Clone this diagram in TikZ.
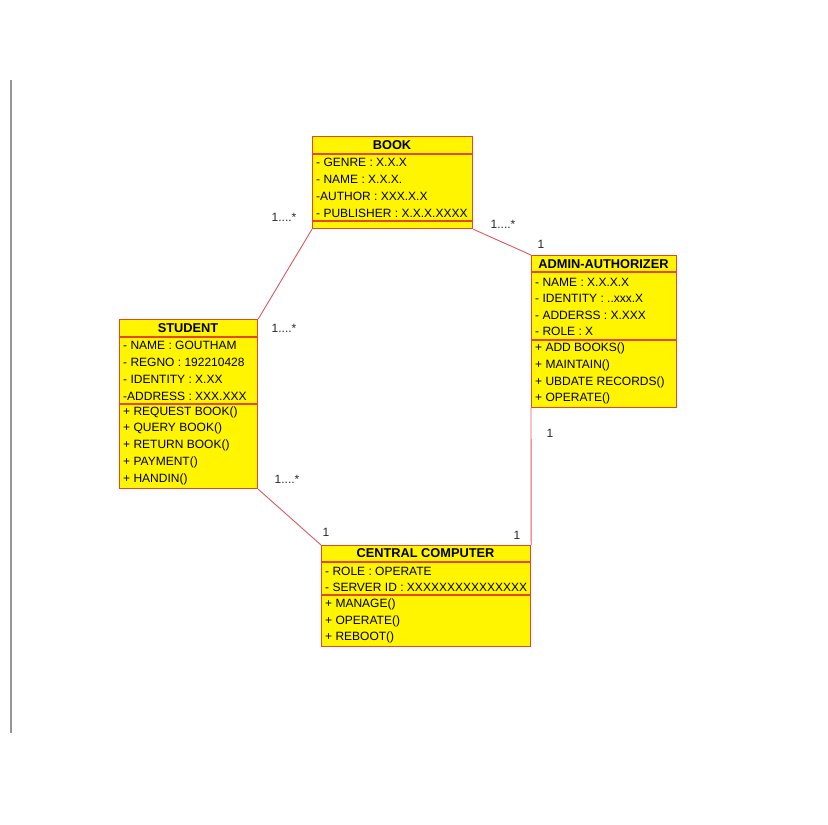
\documentclass[tikz,border=0pt]{standalone}
\usepackage{fontspec}
\setmainfont{Liberation Sans}
\definecolor{classyellow}{RGB}{255,245,0}
\definecolor{classborder}{RGB}{228,72,36}
\definecolor{assocred}{RGB}{222,88,100}
\definecolor{rulegray}{RGB}{150,150,150}
\definecolor{multtext}{RGB}{40,40,40}
\begin{document}
\begin{tikzpicture}[x=1pt,y=-1pt,
  classbox/.style={fill=classyellow,draw=classborder,line width=1.2pt,rectangle,inner sep=0pt,anchor=north west},
  sepline/.style={draw=classborder,line width=1.1pt},
  title/.style={font=\fontsize{12.8}{14}\selectfont\bfseries,inner sep=0pt,anchor=center},
  member/.style={font=\fontsize{12}{14}\selectfont,inner sep=0pt,anchor=west},
  assoc/.style={draw=assocred,line width=0.9pt},
  mult/.style={font=\fontsize{12}{14}\selectfont,text=multtext,inner sep=0pt,anchor=center}]
\useasboundingbox (0,0) rectangle (828,825);
\fill[white] (0,0) rectangle (828,825);
% margin rule on the left
\draw[line width=1.4pt,rulegray] (11,80) -- (11,733);

% ---- BOOK
\node[classbox,minimum width=160pt,minimum height=92pt] (book) at (312,136) {};
\draw[sepline] (312,154) -- (472,154);
\draw[sepline] (312,221) -- (472,221);
\node[title] (book-t) at (392,145) {BOOK};
\node[member] (book-a1) at (316,162) {- GENRE : X.X.X};
\node[member] (book-a2) at (316,179) {- NAME : X.X.X.};
\node[member] (book-a3) at (316,196) {-AUTHOR : XXX.X.X};
\node[member] (book-a4) at (316,213) {- PUBLISHER : X.X.X.XXXX};

% ---- ADMIN-AUTHORIZER
\node[classbox,minimum width=145pt,minimum height=152pt] (admin) at (531,255) {};
\draw[sepline] (531,272) -- (676,272);
\draw[sepline] (531,340) -- (676,340);
\node[title] (admin-t) at (603.5,264) {ADMIN-AUTHORIZER};
\node[member] (admin-a1) at (535,282) {- NAME : X.X.X.X};
\node[member] (admin-a2) at (535,298) {- IDENTITY : ..xxx.X};
\node[member] (admin-a3) at (535,315) {- ADDERSS : X.XXX};
\node[member] (admin-a4) at (535,331) {- ROLE : X};
\node[member] (admin-o1) at (535,348) {+ ADD BOOKS()};
\node[member] (admin-o2) at (535,365) {+ MAINTAIN()};
\node[member] (admin-o3) at (535,382) {+ UBDATE RECORDS()};
\node[member] (admin-o4) at (535,398) {+ OPERATE()};

% ---- STUDENT
\node[classbox,minimum width=138pt,minimum height=169pt] (student) at (119,319) {};
\draw[sepline] (119,337) -- (257,337);
\draw[sepline] (119,404) -- (257,404);
\node[title] (student-t) at (188,328) {STUDENT};
\node[member] (student-a1) at (123,345) {- NAME : GOUTHAM};
\node[member] (student-a2) at (123,362) {- REGNO : 192210428};
\node[member] (student-a3) at (123,379) {- IDENTITY : X.XX};
\node[member] (student-a4) at (123,396) {-ADDRESS : XXX.XXX};
\node[member] (student-o1) at (123,412) {+ REQUEST BOOK()};
\node[member] (student-o2) at (123,428) {+ QUERY BOOK()};
\node[member] (student-o3) at (123,445) {+ RETURN BOOK()};
\node[member] (student-o4) at (123,462) {+ PAYMENT()};
\node[member] (student-o5) at (123,479) {+ HANDIN()};

% ---- CENTRAL COMPUTER
\node[classbox,minimum width=209pt,minimum height=101pt] (central) at (321,545) {};
\draw[sepline] (321,562) -- (530,562);
\draw[sepline] (321,595) -- (530,595);
\node[title] (central-t) at (425.5,553) {CENTRAL COMPUTER};
\node[member] (central-a1) at (325,571) {- ROLE : OPERATE};
\node[member] (central-a2) at (325,587) {- SERVER ID : XXXXXXXXXXXXXXX};
\node[member] (central-o1) at (325,604) {+ MANAGE()};
\node[member] (central-o2) at (325,621) {+ OPERATE()};
\node[member] (central-o3) at (325,637) {+ REBOOT()};

% ---- associations
\draw[assoc] (book.south west) -- (student.north east);
\draw[assoc] (book.south east) -- (admin.north west);
\draw[assoc] (student.south east) -- (central.north west);
\draw[assoc] (admin.south west) -- (central.north east);

% ---- multiplicities
\node[mult] (m1) at (284,217) {1....*};
\node[mult] (m2) at (503,224) {1....*};
\node[mult] (m3) at (541,244) {1};
\node[mult] (m4) at (284,328) {1....*};
\node[mult] (m5) at (287,479) {1....*};
\node[mult] (m6) at (326,532) {1};
\node[mult] (m7) at (550,433) {1};
\node[mult] (m8) at (517,535) {1};
\end{tikzpicture}
\end{document}
